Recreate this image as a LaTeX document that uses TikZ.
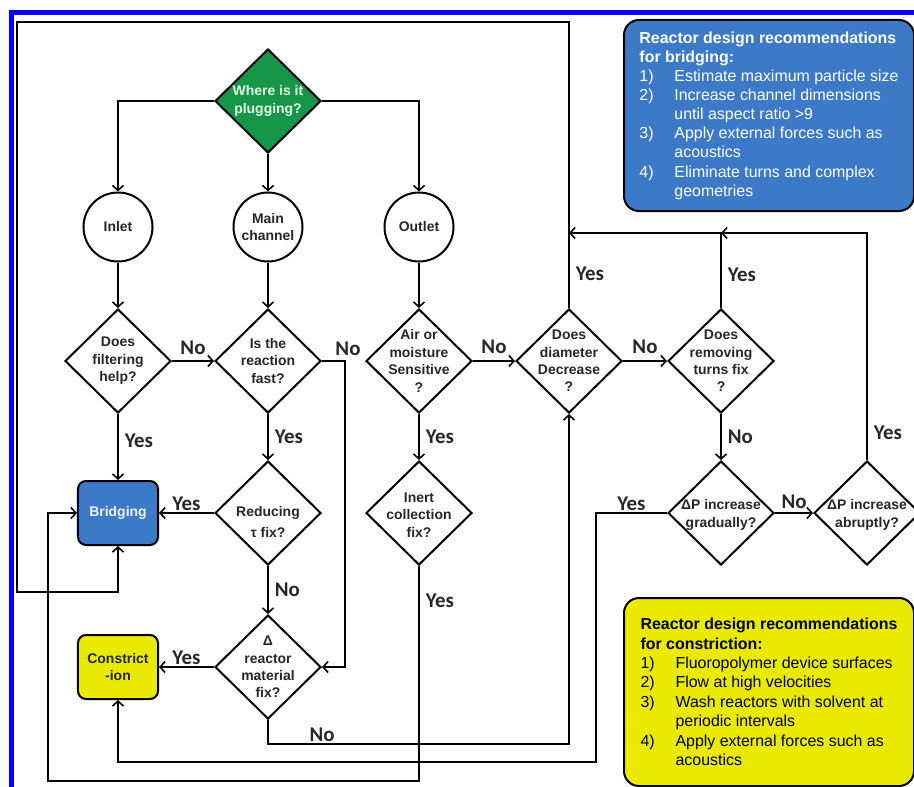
\documentclass[tikz,border=0pt]{standalone}
\usepackage{fontspec}
\setmainfont{Liberation Sans}
\newfontfamily\lblfont{Carlito}
\usetikzlibrary{shapes,arrows,arrows.meta}

\definecolor{plugGreen}{RGB}{22,150,72}
\definecolor{bridgeBlue}{RGB}{60,122,200}
\definecolor{constrYellow}{RGB}{234,234,0}
\definecolor{frameBlue}{RGB}{0,0,255}

\newcommand{\recitem}[2]{\makebox[35bp][l]{#1}#2}
\newcommand{\recmore}[1]{\hspace*{35bp}#1}

\begin{document}
\begin{tikzpicture}[->,>={Straight Barb[length=5bp,width=11bp]},x=1bp,y=1bp,node distance=150bp,line width=1.6bp,
  font=\fontsize{14}{17.5}\selectfont\bfseries]
\tikzstyle{decision}=[diamond,draw=black,line width=2bp,fill=white,minimum width=106bp,minimum height=104bp,inner sep=0pt]
\tikzstyle{dtext}=[align=center,text=black!85,inner sep=0pt]
\tikzstyle{place}=[circle,draw=black,line width=2bp,fill=white,minimum size=69bp,inner sep=0pt,align=center,text=black!85]
\tikzstyle{outcome}=[rectangle,rounded corners=8bp,draw=black,line width=2bp,minimum width=80bp,minimum height=64bp,align=center]
\tikzstyle{recbox}=[rectangle,rounded corners=15bp,draw=black,line width=2bp,anchor=north west,minimum width=290bp,inner xsep=14bp,align=left,font=\fontsize{16}{19.2}\selectfont]
\tikzstyle{lbl}=[font=\lblfont\fontsize{21}{21}\selectfont\bfseries,text=black!85,inner sep=2bp]

\useasboundingbox (0,0) rectangle (914,-787);
\draw[-,frameBlue,line width=5bp] (11.5,-787) -- (11.5,-12.5) -- (914,-12.5);

% questions and outcomes
\node[decision,fill=plugGreen,label={[dtext,text=green!10!white]center:{Where is it\\plugging?}}] (where) at (268,-101) {};
\node[place,below of=where,node distance=126bp] (main) {Main\\channel};
\node[place,left of=main] (inlet) {Inlet};
\node[place,right of=main,node distance=151bp] (outlet) {Outlet};
\node[decision,below of=inlet,node distance=134bp,label={[dtext]center:{Does\\filtering\\help?}}] (filter) {};
\node[decision,right of=filter,label={[dtext]center:{Is the\\reaction\\fast?}}] (fast) {};
\node[decision,right of=fast,node distance=151bp,label={[dtext]center:{Air or\\moisture\\Sensitive\\?}}] (air) {};
\node[decision,right of=air,label={[dtext]center:{Does\\diameter\\Decrease\\?}}] (diam) {};
\node[decision,right of=diam,node distance=152bp,label={[dtext]center:{Does\\removing\\turns fix\\?}}] (turns) {};
\node[outcome,fill=bridgeBlue,text=blue!5!white,below of=filter,node distance=152bp] (bridging) {Bridging};
\node[decision,right of=bridging,label={[dtext,yshift=-9bp]center:{Reducing\\[4bp]τ fix?}}] (reduce) {};
\node[decision,right of=reduce,node distance=151bp,label={[dtext,yshift=-2bp]center:{Inert\\collection\\fix?}}] (inert) {};
\node[decision,below of=turns,node distance=152bp,label={[dtext,yshift=-2bp]center:{ΔP increase\\gradually?}}] (gradual) {};
\node[decision,right of=gradual,node distance=146bp,label={[dtext,yshift=-2bp]center:{ΔP increase\\abruptly?}}] (abrupt) {};
\node[outcome,fill=constrYellow,text=black!85,below of=bridging,node distance=154bp] (constr) {Constrict\\-ion};
\node[decision,right of=constr,label={[dtext]center:{Δ\\reactor\\material\\fix?}}] (material) {};

\coordinate (jdiam) at ([yshift=128bp]diam.center);
\coordinate (jturns) at ([yshift=128bp]turns.center);

% recommendations
\node[recbox,fill=bridgeBlue,text=white,minimum height=191bp] (bridgerec) at (623,-19) {%
  \textbf{Reactor design recommendations}\\
  \textbf{for bridging:}\\
  \recitem{1)}{Estimate maximum particle size}\\
  \recitem{2)}{Increase channel dimensions}\\
  \recmore{until aspect ratio >9}\\
  \recitem{3)}{Apply external forces such as}\\
  \recmore{acoustics}\\
  \recitem{4)}{Eliminate turns and complex}\\
  \recmore{geometries}};
\node[recbox,fill=constrYellow,text=black,minimum height=188bp,font=\fontsize{16}{19.5}\selectfont] (constrrec) at (623,-597) {%
  \textbf{Reactor design recommendations}\\
  \textbf{for constriction:}\\
  \recitem{1)}{Fluoropolymer device surfaces}\\
  \recitem{2)}{Flow at high velocities}\\
  \recitem{3)}{Wash reactors with solvent at}\\
  \recmore{periodic intervals}\\
  \recitem{4)}{Apply external forces such as}\\
  \recmore{acoustics}};

% connectors
\draw (where) -| (inlet);
\draw (where) -- (main);
\draw (where) -| (outlet);
\draw (inlet) -- (filter);
\draw (main) -- (fast);
\draw (outlet) -- (air);
\draw (filter) -- node[lbl,above=4bp] {No} (fast);
\draw (filter) -- node[lbl,right=4bp,pos=0.4] {Yes} (bridging);
\draw (fast) -- node[lbl,right=4bp] {Yes} (reduce);
\draw (fast.east) -- ++(23,0) node[lbl,above=3bp,xshift=3bp] {No} |- (material);
\draw (reduce) -- node[lbl,above] {Yes} (bridging);
\draw (reduce) -- node[lbl,right=4bp] {No} (material);
\draw (material) -- node[lbl,above] {Yes} (constr);
\draw (material.south) -- ++(0,-24) -| node[lbl,above,pos=0.09] {No} (diam);
\draw (air) -- node[lbl,above=5bp] {No} (diam);
\draw (air) -- node[lbl,right=4bp] {Yes} (inert);
\draw (inert.south) |- node[lbl,right=4bp,pos=0.08] {Yes} ++(-371,-215) |- (bridging);
\draw (gradual.west) -| node[lbl,above,pos=0.25] {Yes} ++(-71,-249) -| (constr);
\draw (diam.north) |- node[lbl,right=4bp,pos=0.06] {Yes} ++(-552,286) |- ++(101,-570) -- (bridging);
\draw (turns.north) |- node[lbl,right=4bp,pos=0.22] {Yes} (jdiam);
\draw (abrupt.north) |- node[lbl,right=4bp,pos=0.06] {Yes} (jturns);
\draw (diam) -- node[lbl,above=5bp] {No} (turns);
\draw (turns) -- node[lbl,right=4bp] {No} (gradual);
\draw (gradual) -- node[lbl,above=2bp] {No} (abrupt);
\end{tikzpicture}
\end{document}
